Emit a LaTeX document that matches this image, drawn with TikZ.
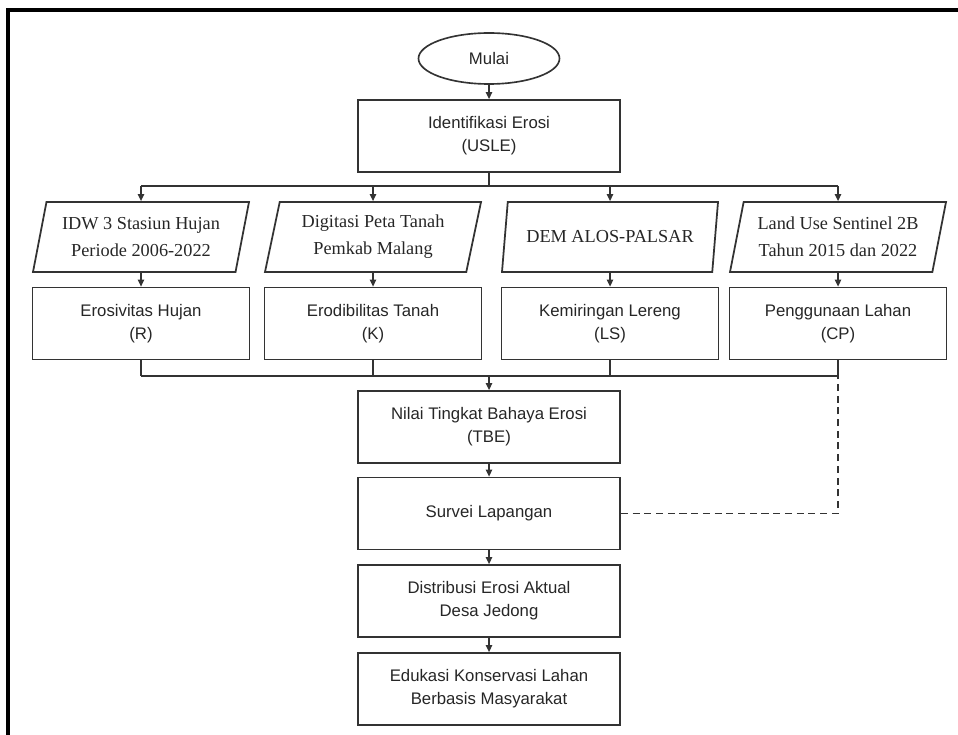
\documentclass[tikz,border=0pt]{standalone}
\usepackage{fontspec}
\setmainfont{Liberation Serif}
\setsansfont{Liberation Sans}
\usetikzlibrary{arrows.meta, positioning, shapes.geometric}

\begin{document}
\begin{tikzpicture}[
    x=0.03cm, y=-0.03cm,
    every node/.style={font=\sffamily\fontsize{14.3}{19.5}\selectfont, text=black!85},
    mulaibox/.style={ellipse, draw=black!80, line width=1.4pt, minimum width=4.23cm, minimum height=1.53cm},
    proses/.style={draw=black!80, line width=1.5pt, align=center, minimum width=6.51cm, minimum height=2.16cm},
    utama/.style={proses, minimum width=7.86cm},
    datain/.style={trapezium, trapezium left angle=74, trapezium right angle=106, trapezium stretches body,
        draw=black!80, line width=1.5pt, align=center, minimum width=6.48cm, minimum height=2.1cm,
        inner xsep=0pt, font=\rmfamily\fontsize{15.6}{23}\selectfont},
    garis/.style={line width=1.2pt, draw=black!80},
    panah/.style={garis, -{Triangle[length=6pt, width=5.5pt]}}
]
\useasboundingbox (0,0) rectangle (958,735);
\draw[line width=2.6pt] (8,760) -- (8,10) -- (980,10);

\node[mulaibox] (mulai) at (489,58.5) {Mulai};
\node[utama] (usle) at (489,136) {Identifikasi Erosi\\(USLE)};

\node[datain] (p1) at (141,237) {IDW 3 Stasiun Hujan\\Periode 2006-2022};
\node[datain] (p2) at (373,237) {Digitasi Peta Tanah\\Pemkab Malang};
\node[datain] (p3) at (610,237) {DEM ALOS-PALSAR};
\node[datain] (p4) at (838,237) {Land Use Sentinel 2B\\Tahun 2015 dan 2022};

\node[proses] (k1) at (141,323.5) {Erosivitas Hujan\\(R)};
\node[proses] (k2) at (373,323.5) {Erodibilitas Tanah\\(K)};
\node[proses] (k3) at (610,323.5) {Kemiringan Lereng\\(LS)};
\node[proses] (k4) at (838,323.5) {Penggunaan Lahan\\(CP)};

\node[utama] (tbe) at (489,427) {Nilai Tingkat Bahaya Erosi\\(TBE)};
\node[utama] (survei) at (489,513.5) {Survei Lapangan};
\node[utama] (distribusi) at (489,601) {Distribusi Erosi Aktual\\Desa Jedong};
\node[utama] (edukasi) at (489,689) {Edukasi Konservasi Lahan\\Berbasis Masyarakat};

\coordinate (cabang) at (489,186);
\coordinate (gabung) at (489,376);

% percabangan ke data masukan
\draw[panah] (mulai) -- (usle);
\draw[garis] (usle) -- (cabang);
\draw[garis] (cabang -| p1) -- (cabang -| p4);
\foreach \n in {1,2,3,4} {
    \draw[panah] (cabang -| p\n) -- (p\n.center |- p\n.north);
    \draw[panah] (p\n.center |- p\n.south) -- (k\n);
    \draw[garis] (k\n) -- (k\n |- gabung);
}
\draw[garis] (k1 |- gabung) -- (k4 |- gabung);

% alur utama
\draw[panah] (gabung) -- (tbe);
\draw[panah] (tbe) -- (survei);
\draw[panah] (survei) -- (distribusi);
\draw[panah] (distribusi) -- (edukasi);
\draw[garis, dash pattern=on 6pt off 4pt] (survei.east) -| (k4 |- gabung);
\end{tikzpicture}
\end{document}
